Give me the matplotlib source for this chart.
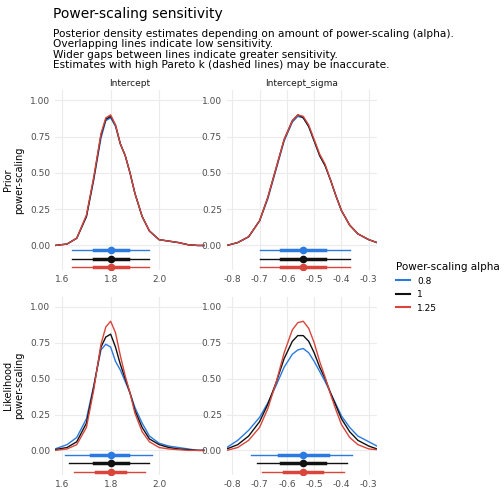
import matplotlib.pyplot as plt
import numpy as np

alphas = ["0.8", "1", "1.25"]
colors = ["#2a7ae2", "#111111", "#d9453a"]

# density curves
x_int = [1.57, 1.62, 1.66, 1.70, 1.73, 1.76, 1.78, 1.80, 1.82, 1.84, 1.86, 1.88, 1.90, 1.93, 1.96, 2.00, 2.04, 2.08, 2.12, 2.16, 2.19]
prior_int = {
    "0.8": [0.0, 0.01, 0.05, 0.20, 0.45, 0.74, 0.86, 0.88, 0.82, 0.70, 0.62, 0.50, 0.36, 0.20, 0.10, 0.04, 0.03, 0.02, 0.005, 0.0, 0.0],
    "1": [0.0, 0.01, 0.05, 0.20, 0.46, 0.76, 0.87, 0.89, 0.83, 0.70, 0.62, 0.50, 0.36, 0.20, 0.10, 0.04, 0.03, 0.02, 0.005, 0.0, 0.0],
    "1.25": [0.0, 0.01, 0.05, 0.21, 0.47, 0.77, 0.88, 0.90, 0.83, 0.70, 0.62, 0.50, 0.36, 0.20, 0.10, 0.04, 0.03, 0.02, 0.005, 0.0, 0.0],
}
lik_int = {
    "0.8": [0.01, 0.04, 0.09, 0.22, 0.45, 0.70, 0.74, 0.72, 0.62, 0.56, 0.48, 0.40, 0.30, 0.19, 0.10, 0.05, 0.03, 0.02, 0.01, 0.0, 0.0],
    "1": [0.005, 0.02, 0.06, 0.19, 0.44, 0.72, 0.79, 0.81, 0.72, 0.60, 0.50, 0.40, 0.28, 0.16, 0.08, 0.04, 0.02, 0.01, 0.005, 0.0, 0.0],
    "1.25": [0.0, 0.01, 0.04, 0.16, 0.42, 0.74, 0.86, 0.90, 0.82, 0.66, 0.52, 0.40, 0.26, 0.13, 0.06, 0.02, 0.01, 0.005, 0.0, 0.0, 0.0],
}
x_sig = [-0.82, -0.78, -0.74, -0.70, -0.67, -0.64, -0.61, -0.58, -0.56, -0.54, -0.52, -0.50, -0.48, -0.46, -0.44, -0.42, -0.40, -0.37, -0.34, -0.30, -0.27]
prior_sig = {
    "0.8": [0.0, 0.02, 0.06, 0.17, 0.32, 0.52, 0.72, 0.85, 0.89, 0.88, 0.82, 0.72, 0.62, 0.55, 0.45, 0.34, 0.24, 0.14, 0.08, 0.04, 0.02],
    "1": [0.0, 0.02, 0.06, 0.17, 0.33, 0.53, 0.73, 0.86, 0.90, 0.88, 0.82, 0.72, 0.62, 0.55, 0.45, 0.34, 0.24, 0.14, 0.08, 0.04, 0.02],
    "1.25": [0.0, 0.02, 0.06, 0.17, 0.33, 0.53, 0.73, 0.86, 0.90, 0.89, 0.83, 0.73, 0.63, 0.56, 0.45, 0.34, 0.24, 0.14, 0.08, 0.04, 0.02],
}
lik_sig = {
    "0.8": [0.02, 0.07, 0.14, 0.23, 0.33, 0.45, 0.58, 0.67, 0.70, 0.71, 0.68, 0.62, 0.55, 0.48, 0.40, 0.32, 0.24, 0.16, 0.10, 0.06, 0.03],
    "1": [0.01, 0.04, 0.10, 0.20, 0.32, 0.47, 0.64, 0.76, 0.80, 0.80, 0.76, 0.68, 0.58, 0.50, 0.40, 0.31, 0.22, 0.13, 0.07, 0.03, 0.01],
    "1.25": [0.0, 0.02, 0.07, 0.16, 0.29, 0.47, 0.68, 0.84, 0.89, 0.90, 0.85, 0.75, 0.62, 0.51, 0.39, 0.28, 0.18, 0.09, 0.04, 0.01, 0.005],
}

# point intervals: median, 66% low/high, 95% low/high
prior_int_iv = {a: (1.80, 1.73, 1.87, 1.64, 1.96) for a in alphas}
prior_sig_iv = {a: (-0.54, -0.62, -0.46, -0.70, -0.37) for a in alphas}
lik_int_iv = {"0.8": (1.80, 1.72, 1.87, 1.61, 1.97), "1": (1.80, 1.73, 1.87, 1.63, 1.96), "1.25": (1.80, 1.74, 1.86, 1.65, 1.94)}
lik_sig_iv = {"0.8": (-0.54, -0.63, -0.45, -0.73, -0.36), "1": (-0.54, -0.62, -0.46, -0.71, -0.38), "1.25": (-0.54, -0.61, -0.47, -0.69, -0.39)}

int_ticks = [1.6, 1.8, 2.0]
sig_ticks = [-0.8, -0.7, -0.6, -0.5, -0.4, -0.3]

fig = plt.figure(figsize=(5.04, 5.04), dpi=100)
panels = [
    ([0.109, 0.464, 0.298, 0.357], x_int, prior_int, prior_int_iv, (1.57, 2.19), int_ticks),
    ([0.450, 0.464, 0.298, 0.357], x_sig, prior_sig, prior_sig_iv, (-0.82, -0.27), sig_ticks),
    ([0.109, 0.058, 0.298, 0.353], x_int, lik_int, lik_int_iv, (1.57, 2.19), int_ticks),
    ([0.450, 0.058, 0.298, 0.353], x_sig, lik_sig, lik_sig_iv, (-0.82, -0.27), sig_ticks),
]
axes = []
for rect, xs, dens, ivs, xlim, xt in panels:
    ax = fig.add_axes(rect)
    for a, c, off in zip(alphas, colors, [-0.03, -0.09, -0.15]):
        ax.plot(xs, dens[a], color=c, lw=1)
        m, l66, h66, l95, h95 = ivs[a]
        ax.plot([l95, h95], [off, off], color=c, lw=1)
        ax.plot([l66, h66], [off, off], color=c, lw=2.5)
        ax.plot(m, off, "o", color=c, ms=4.5)
    ax.set_xlim(*xlim)
    ax.set_ylim(-0.17, 1.07)
    ax.set_xticks(xt)
    ax.set_xticklabels([f"{t:.1f}" for t in xt])
    ax.set_yticks([0, 0.25, 0.5, 0.75, 1.0])
    ax.set_yticklabels(["0.00", "0.25", "0.50", "0.75", "1.00"])
    ax.grid(True, color="#ebebeb", lw=0.8)
    ax.set_axisbelow(True)
    for s in ax.spines.values():
        s.set_visible(False)
    ax.tick_params(length=0, labelsize=6.5, colors="#4d4d4d")
    axes.append(ax)

axes[0].set_title("Intercept", fontsize=6.5, color="#1a1a1a", pad=3)
axes[1].set_title("Intercept_sigma", fontsize=6.5, color="#1a1a1a", pad=3)
axes[0].set_ylabel("Prior\npower-scaling", fontsize=7)
axes[2].set_ylabel("Likelihood\npower-scaling", fontsize=7)

fig.text(0.105, 0.965, "Power-scaling sensitivity", fontsize=10)
fig.text(0.105, 0.865, "Posterior density estimates depending on amount of power-scaling (alpha).\n"
         "Overlapping lines indicate low sensitivity.\n"
         "Wider gaps between lines indicate greater sensitivity.\n"
         "Estimates with high Pareto k (dashed lines) may be inaccurate.",
         fontsize=7.6, linespacing=1.05)

handles = [plt.Line2D([], [], color=c, lw=1.5) for c in colors]
fig.legend(handles, alphas, title="Power-scaling alpha", loc="center left",
           bbox_to_anchor=(0.77, 0.43), frameon=False, fontsize=6.5,
           title_fontsize=7.5, alignment="left", handlelength=1.5)

fig.savefig("out.png", dpi=100)
